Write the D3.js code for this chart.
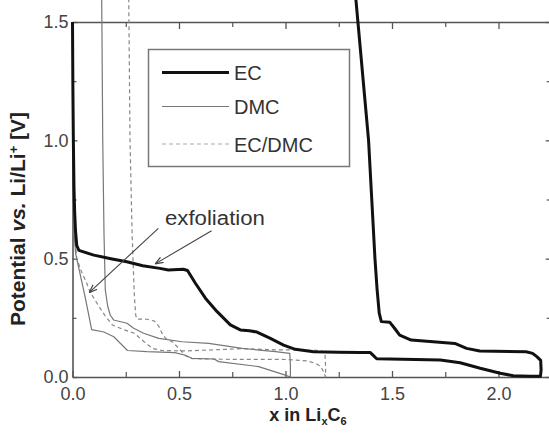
<!DOCTYPE html>
<html><head><meta charset="utf-8">
<script src="https://cdn.jsdelivr.net/npm/d3@7"></script>
<style>
body{margin:0;background:#fff;}
svg{display:block;font-family:"Liberation Sans",Arial,Helvetica,sans-serif;}
</style>
</head><body>
<svg id="c" width="549" height="433"></svg>
<script>
// ---------- data ----------
const xTicks = [0, 0.5, 1.0, 1.5, 2.0];
const xMinor = [0.25, 0.75, 1.25, 1.75];
const yTicks = [0, 0.5, 1.0, 1.5];
const yMinor = [0.25, 0.75, 1.25];
const seriesNames = ["EC", "DMC", "EC/DMC"];

// EC: first discharge then charge (x in LixC6, potential V)
const ecX = [0.000,0.002,0.004,0.007,0.010,0.014,0.020,0.030,0.10,0.18,0.255,0.33,0.41,0.45,0.52,0.54,0.577,0.624,0.679,0.741,0.788,0.83,0.866,0.929,0.991,1.046,1.132,1.25,1.351,1.397,1.413,1.428,1.55,1.727,1.82,1.914,2.008,2.07,2.15,2.197,
             2.200,2.198,2.18,2.16,2.13,1.912,1.85,1.795,1.693,1.59,1.536,1.512,1.49,1.45,1.44,1.43,1.42,1.405,1.39,1.37,1.35,1.34,1.33];
const ecV = [1.50,1.20,1.00,0.80,0.70,0.62,0.555,0.535,0.515,0.50,0.487,0.47,0.459,0.452,0.455,0.45,0.396,0.333,0.276,0.22,0.199,0.195,0.19,0.163,0.135,0.117,0.107,0.105,0.104,0.104,0.09,0.077,0.075,0.072,0.06,0.037,0.016,0.005,0.003,0.003,
             0.03,0.07,0.086,0.10,0.107,0.110,0.121,0.142,0.149,0.156,0.177,0.206,0.231,0.234,0.27,0.37,0.50,0.75,1.00,1.20,1.40,1.50,1.60];

// DMC
const dmcX = [0.137,0.138,0.142,0.148,0.154,0.165,0.177,0.193,0.256,0.287,0.334,0.405,0.514,0.64,0.796,0.953,1.02,1.023,1.023,
              0.999,0.874,0.686,0.665,0.56,0.53,0.48,0.35,0.258,0.194,0.147,0.09,0.059,0.035,0.015,0.008,0.004,0.002,0.000];
const dmcV = [1.60,1.50,1.00,0.60,0.368,0.30,0.262,0.241,0.227,0.206,0.185,0.163,0.149,0.142,0.121,0.107,0.100,0.05,0.0,
              0.008,0.044,0.065,0.076,0.079,0.092,0.103,0.107,0.112,0.17,0.19,0.20,0.34,0.438,0.52,0.60,0.80,1.00,1.50];

// EC/DMC
const mixX = [0.264,0.265,0.27,0.28,0.29,0.297,0.303,0.35,0.385,0.405,0.42,0.437,0.47,0.50,0.53,0.56,0.70,1.00,1.04,1.10,1.14,1.165,1.18,1.188,
              1.188,1.185,1.16,1.04,0.95,0.80,0.67,0.52,0.42,0.375,0.336,0.29,0.243,0.187,0.156,0.125,0.082,0.067,0.04,0.02,0.01,0.005,0.002,0.000];
const mixV = [1.60,1.50,1.00,0.60,0.35,0.26,0.245,0.244,0.236,0.215,0.185,0.163,0.148,0.12,0.09,0.078,0.075,0.074,0.072,0.068,0.058,0.045,0.02,0.0,
              0.05,0.105,0.112,0.114,0.115,0.12,0.115,0.11,0.112,0.121,0.149,0.185,0.199,0.22,0.255,0.297,0.36,0.396,0.45,0.50,0.60,0.80,1.00,1.50];

// annotation (data coordinates)
const annoText = "exfoliation";
const annoPos = [0.434, 0.642];
const arrowFrom = [[0.403, 0.628], [0.653, 0.618]];
const arrowTo   = [[0.082, 0.36],  [0.392, 0.48]];

// ---------- drawing ----------
const xMax = 2.245;
const x = d3.scaleLinear().domain([0, 2]).range([72.5, 498.5]);
const y = d3.scaleLinear().domain([0, 1.5]).range([377, 22]);
const xa = x.copy().domain([0, xMax]).range([x(0), x(xMax)]);

const svg = d3.select("#c");
const axisCol = "#555";

function styleAxis(g, labels) {
  g.select(".domain").attr("stroke", axisCol).attr("stroke-width", 1.6);
  g.selectAll(".tick line").attr("stroke", axisCol).attr("stroke-width", 1.3);
  g.selectAll(".tick text").attr("fill", "#444").style("font-size", "18px")
    .style("font-family", '"Liberation Sans",Arial,sans-serif');
  if (!labels) g.selectAll(".tick text").remove();
}

// bottom
const gB = svg.append("g").attr("transform", `translate(0,${y(0)})`)
  .call(d3.axisBottom(xa).tickValues(xTicks).tickSizeInner(-6).tickSizeOuter(0).tickPadding(10).tickFormat(d3.format(".1f")));
styleAxis(gB, true);
svg.append("g").attr("transform", `translate(0,${y(0)})`)
  .call(d3.axisBottom(xa).tickValues(xMinor).tickSizeInner(-5).tickSizeOuter(0).tickFormat(""))
  .call(g => { g.select(".domain").remove(); g.selectAll("line").attr("stroke", axisCol).attr("stroke-width", 1.2); });
// top
const gT = svg.append("g").attr("transform", `translate(0,${y(1.5)})`)
  .call(d3.axisTop(xa).tickValues(xTicks).tickSizeInner(-7).tickSizeOuter(0));
styleAxis(gT, false);
svg.append("g").attr("transform", `translate(0,${y(1.5)})`)
  .call(d3.axisTop(xa).tickValues(xMinor).tickSizeInner(-5).tickSizeOuter(0).tickFormat(""))
  .call(g => { g.select(".domain").remove(); g.selectAll("line").attr("stroke", axisCol).attr("stroke-width", 1.2); });
// left
const gL = svg.append("g").attr("transform", `translate(${x(0)},0)`)
  .call(d3.axisLeft(y).tickValues(yTicks).tickSizeInner(-5).tickSizeOuter(0).tickPadding(4).tickFormat(d3.format(".1f")));
styleAxis(gL, true);
svg.append("g").attr("transform", `translate(${x(0)},0)`)
  .call(d3.axisLeft(y).tickValues(yMinor).tickSizeInner(-4).tickSizeOuter(0).tickFormat(""))
  .call(g => { g.select(".domain").remove(); g.selectAll("line").attr("stroke", axisCol).attr("stroke-width", 1.2); });
// right
const gR = svg.append("g").attr("transform", `translate(${xa(xMax)},0)`)
  .call(d3.axisRight(y).tickValues(yTicks).tickSizeInner(-5).tickSizeOuter(0));
styleAxis(gR, false);
svg.append("g").attr("transform", `translate(${xa(xMax)},0)`)
  .call(d3.axisRight(y).tickValues(yMinor).tickSizeInner(-4).tickSizeOuter(0).tickFormat(""))
  .call(g => { g.select(".domain").remove(); g.selectAll("line").attr("stroke", axisCol).attr("stroke-width", 1.2); });

// curves
const line = d3.line().x(d => x(d[0])).y(d => y(d[1]));
const series = [
  {name: seriesNames[0], xs: ecX,  vs: ecV,  stroke: "#111", width: 3,   dash: null},
  {name: seriesNames[1], xs: dmcX, vs: dmcV, stroke: "#777", width: 1.2, dash: null},
  {name: seriesNames[2], xs: mixX, vs: mixV, stroke: "#888", width: 1.2, dash: "4,3"}
];
[series[2], series[1], series[0]].forEach(s => {
  svg.append("path")
    .datum(s.xs.map((v, i) => [v, s.vs[i]]))
    .attr("d", line)
    .attr("fill", "none")
    .attr("stroke", s.stroke)
    .attr("stroke-width", s.width)
    .attr("stroke-linejoin", "round")
    .attr("stroke-dasharray", s.dash);
});

// legend
const lg = svg.append("g");
lg.append("rect").attr("x", 148.5).attr("y", 49.5).attr("width", 201).attr("height", 117)
  .attr("fill", "#fff").attr("stroke", "#777").attr("stroke-width", 1.5);
const legY = [72.5, 106.5, 144];
series.forEach((s, i) => {
  lg.append("line").attr("x1", 162).attr("x2", 229).attr("y1", legY[i]).attr("y2", legY[i])
    .attr("stroke", i === 2 ? "#aaa" : s.stroke).attr("stroke-width", s.width).attr("stroke-dasharray", s.dash);
  lg.append("text").attr("x", 234).attr("y", legY[i] + 7.5).text(s.name)
    .attr("fill", "#333").style("font-size", "20px");
});

// annotation
const defs = svg.append("defs");
defs.append("marker").attr("id", "ah").attr("viewBox", "0 -4 8 8").attr("refX", 7).attr("refY", 0)
  .attr("markerWidth", 8).attr("markerHeight", 8).attr("markerUnits", "userSpaceOnUse").attr("orient", "auto")
  .append("path").attr("d", "M0,-3L8,0L0,3").attr("fill", "none").attr("stroke", "#444").attr("stroke-width", 1.2);
svg.append("text").attr("x", x(annoPos[0])).attr("y", y(annoPos[1])).text(annoText)
  .attr("fill", "#333").style("font-size", "20px").attr("textLength", 100).attr("lengthAdjust", "spacingAndGlyphs");
arrowFrom.forEach((f, i) => {
  svg.append("line").attr("x1", x(f[0])).attr("y1", y(f[1]))
    .attr("x2", x(arrowTo[i][0])).attr("y2", y(arrowTo[i][1]))
    .attr("stroke", "#444").attr("stroke-width", 1.1).attr("marker-end", "url(#ah)");
});

// axis titles
const yl = svg.append("text").attr("transform", "translate(25,219) rotate(-90)")
  .attr("text-anchor", "middle").attr("fill", "#222").style("font-size", "21px").style("font-weight", "bold");
yl.append("tspan").text("Potential ");
yl.append("tspan").text("vs.").style("font-style", "italic");
yl.append("tspan").text(" Li/Li");
yl.append("tspan").text("+").attr("baseline-shift", "super").style("font-size", "13px");
yl.append("tspan").text(" [V]");

const xl = svg.append("text").attr("x", 308).attr("y", 421)
  .attr("text-anchor", "middle").attr("fill", "#222").style("font-size", "18px").style("font-weight", "bold");
xl.append("tspan").text("x in Li");
xl.append("tspan").text("x").attr("baseline-shift", "-4px").style("font-size", "11px");
xl.append("tspan").text("C");
xl.append("tspan").text("6").attr("baseline-shift", "-4px").style("font-size", "11px");
</script>
</body></html>
